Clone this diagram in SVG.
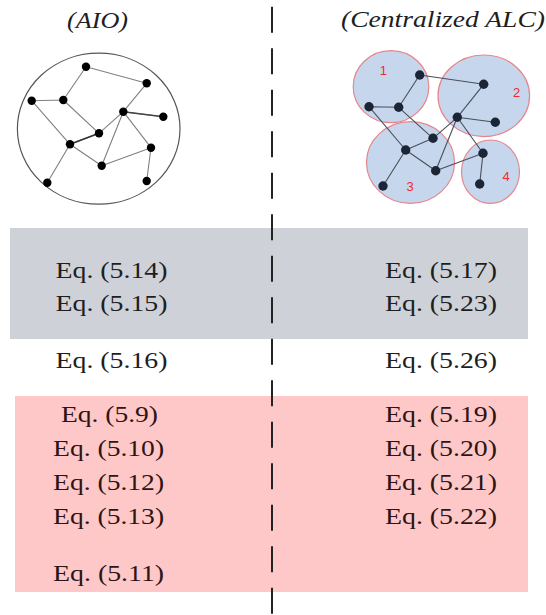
<svg xmlns="http://www.w3.org/2000/svg" width="546" height="615" viewBox="0 0 546 615">
<style>
.eq{font-family:"Liberation Serif","Times New Roman",serif;font-size:24px;text-anchor:middle}
.g{fill:#1e1e1e}
.p{fill:#2e1414}
.title{font-family:"Liberation Serif","Times New Roman",serif;font-size:23px;font-style:italic;fill:#1e1e1e;text-anchor:middle}
.le{stroke:#808080;stroke-width:1.1;fill:none}
.re{stroke:#4a4f58;stroke-width:1.1;fill:none}
.ln{fill:#000}
.rn{fill:#1c2536}
.cl{fill:#c6d6ec;stroke:#e5868c;stroke-width:1.2}
.num{font-family:"Liberation Sans",Arial,sans-serif;font-size:13px;fill:#ee2a34;text-anchor:middle}
</style>
<rect id="gray-band" x="10" y="228" width="518" height="111" fill="#ced2d8"/>
<rect id="pink-band" x="15" y="396" width="513" height="196" fill="#ffc8c8"/>
<g id="divider">
<line x1="272" y1="6.7" x2="272" y2="615" stroke="#222" stroke-width="2" stroke-dasharray="26 15.5"/>
</g>
<text class="title" x="97.5" y="28" textLength="61" lengthAdjust="spacingAndGlyphs">(AIO)</text>
<text class="title" x="443" y="27" textLength="204" lengthAdjust="spacingAndGlyphs">(Centralized ALC)</text>
<g id="aio-graph">
<ellipse cx="98.7" cy="128.7" rx="81.3" ry="75.5" fill="none" stroke="#555" stroke-width="1.2"/>
<g id="aio-edges">
<path class="le" d="M86,66.7L146.7,83.3 M86,66.7L63.3,100 M31.7,100.7L63.3,100 M31.7,100.7L70,144.3 M63.3,100L99,133.3 M146.7,83.3L123.3,111.7 M123.3,111.7L163.3,116.7 M123.3,111.7L99,133.3 M123.3,111.7L101.7,165.7 M123.3,111.7L151,147.7 M70,144.3L99,133.3 M70,144.3L101.7,165.7 M70,144.3L47.3,182.7 M101.7,165.7L151,147.7 M151,147.7L146.7,181"/>
<line x1="70" y1="144.3" x2="99" y2="133.3" stroke="#333" stroke-width="1.6"/>
<line x1="123.3" y1="111.7" x2="163.3" y2="116.7" stroke="#444" stroke-width="1.4"/>
</g>
<g id="aio-nodes">
<circle class="ln" cx="86" cy="66.7" r="4.2"/>
<circle class="ln" cx="146.7" cy="83.3" r="4.2"/>
<circle class="ln" cx="31.7" cy="100.7" r="4.2"/>
<circle class="ln" cx="63.3" cy="100" r="4.2"/>
<circle class="ln" cx="123.3" cy="111.7" r="4.2"/>
<circle class="ln" cx="163.3" cy="116.7" r="4.2"/>
<circle class="ln" cx="99" cy="133.3" r="4.2"/>
<circle class="ln" cx="70" cy="144.3" r="4.2"/>
<circle class="ln" cx="151" cy="147.7" r="4.2"/>
<circle class="ln" cx="101.7" cy="165.7" r="4.2"/>
<circle class="ln" cx="47.3" cy="182.7" r="4.2"/>
<circle class="ln" cx="146.7" cy="181" r="4.2"/>
</g>
</g>
<g id="alc-graph">
<g id="cluster-1"><ellipse class="cl" cx="391" cy="86.7" rx="37.8" ry="36"/><text class="num" x="383.3" y="74.7">1</text></g>
<g id="cluster-2"><ellipse class="cl" cx="483.8" cy="95.8" rx="45.8" ry="40.8"/><text class="num" x="516.7" y="97">2</text></g>
<g id="cluster-3"><ellipse class="cl" cx="410.5" cy="162.5" rx="44" ry="40.8"/><text class="num" x="410" y="191.4">3</text></g>
<g id="cluster-4"><ellipse class="cl" cx="490.5" cy="171.7" rx="29" ry="31.7"/><text class="num" x="506" y="181.4">4</text></g>
<g id="alc-edges">
<path class="re" d="M419.7,75L483.7,84.3 M419.7,75L398.7,107.3 M369,106.7L398.7,107.3 M369,106.7L405.7,150 M398.7,107.3L433,138.3 M483.7,84.3L457.3,117.3 M457.3,117.3L495.3,122.3 M457.3,117.3L433,138.3 M457.3,117.3L435.7,170.7 M457.3,117.3L483,153.3 M405.7,150L433,138.3 M405.7,150L435.7,170.7 M405.7,150L383,186 M435.7,170.7L483,153.3 M483,153.3L479.7,184"/>
</g>
<g id="alc-nodes">
<circle class="rn" cx="419.7" cy="75" r="4.7"/>
<circle class="rn" cx="483.7" cy="84.3" r="4.7"/>
<circle class="rn" cx="369" cy="106.7" r="4.7"/>
<circle class="rn" cx="398.7" cy="107.3" r="4.7"/>
<circle class="rn" cx="457.3" cy="117.3" r="4.7"/>
<circle class="rn" cx="495.3" cy="122.3" r="4.7"/>
<circle class="rn" cx="433" cy="138.3" r="4.7"/>
<circle class="rn" cx="405.7" cy="150" r="4.7"/>
<circle class="rn" cx="483" cy="153.3" r="4.7"/>
<circle class="rn" cx="435.7" cy="170.7" r="4.7"/>
<circle class="rn" cx="383" cy="186" r="4.7"/>
<circle class="rn" cx="479.7" cy="184" r="4.7"/>
</g>
</g>
<g id="gray-texts">
<text class="eq g" x="111.5" y="278" textLength="112" lengthAdjust="spacingAndGlyphs">Eq. (5.14)</text>
<text class="eq g" x="111.5" y="311" textLength="112" lengthAdjust="spacingAndGlyphs">Eq. (5.15)</text>
<text class="eq g" x="441" y="278" textLength="112" lengthAdjust="spacingAndGlyphs">Eq. (5.17)</text>
<text class="eq g" x="441" y="311" textLength="112" lengthAdjust="spacingAndGlyphs">Eq. (5.23)</text>
</g>
<g id="white-texts">
<text class="eq g" x="111.5" y="368" textLength="112" lengthAdjust="spacingAndGlyphs">Eq. (5.16)</text>
<text class="eq g" x="441" y="368" textLength="112" lengthAdjust="spacingAndGlyphs">Eq. (5.26)</text>
</g>
<g id="pink-texts">
<text class="eq p" x="109.5" y="422" textLength="97" lengthAdjust="spacingAndGlyphs">Eq. (5.9)</text>
<text class="eq p" x="108.6" y="456" textLength="111" lengthAdjust="spacingAndGlyphs">Eq. (5.10)</text>
<text class="eq p" x="108.6" y="490" textLength="111" lengthAdjust="spacingAndGlyphs">Eq. (5.12)</text>
<text class="eq p" x="108.6" y="524" textLength="111" lengthAdjust="spacingAndGlyphs">Eq. (5.13)</text>
<text class="eq p" x="108.6" y="581" textLength="111" lengthAdjust="spacingAndGlyphs">Eq. (5.11)</text>
<text class="eq p" x="441" y="422" textLength="112" lengthAdjust="spacingAndGlyphs">Eq. (5.19)</text>
<text class="eq p" x="441" y="456" textLength="112" lengthAdjust="spacingAndGlyphs">Eq. (5.20)</text>
<text class="eq p" x="441" y="490" textLength="112" lengthAdjust="spacingAndGlyphs">Eq. (5.21)</text>
<text class="eq p" x="441" y="524" textLength="112" lengthAdjust="spacingAndGlyphs">Eq. (5.22)</text>
</g>
</svg>
